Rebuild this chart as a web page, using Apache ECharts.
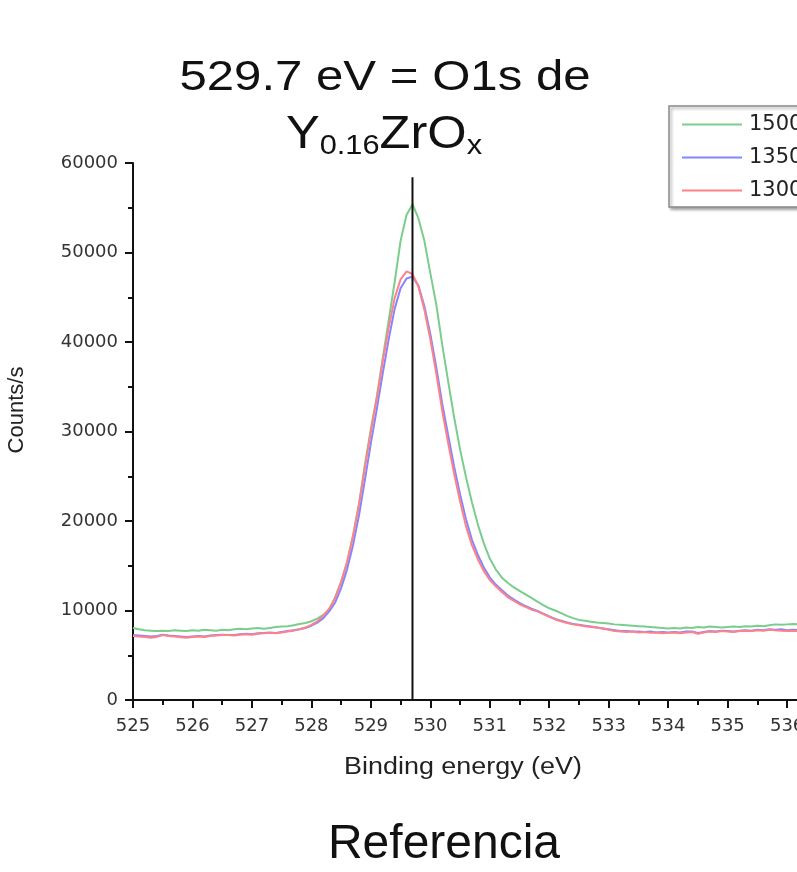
<!DOCTYPE html>
<html>
<head>
<meta charset="utf-8">
<script src="https://cdn.jsdelivr.net/npm/echarts@6/dist/echarts.min.js"></script>
<style>
html,body{margin:0;padding:0;background:#fff;}
#c{width:797px;height:872px;}
</style>
</head>
<body>
<div id="c"></div>
<script>
// Binding energy (eV)
const energies = [
525.0,525.1,525.2,525.3,525.4,525.5,525.6,525.7,525.8,525.9,
526.0,526.1,526.2,526.3,526.4,526.5,526.6,526.7,526.8,526.9,
527.0,527.1,527.2,527.3,527.4,527.5,527.6,527.7,527.8,527.9,
528.0,528.1,528.2,528.3,528.4,528.5,528.6,528.7,528.8,528.9,
529.0,529.1,529.2,529.3,529.4,529.5,529.6,529.7,529.8,529.9,
530.0,530.1,530.2,530.3,530.4,530.5,530.6,530.7,530.8,530.9,
531.0,531.1,531.2,531.3,531.4,531.5,531.6,531.7,531.8,531.9,
532.0,532.1,532.2,532.3,532.4,532.5,532.6,532.7,532.8,532.9,
533.0,533.1,533.2,533.3,533.4,533.5,533.6,533.7,533.8,533.9,
534.0,534.1,534.2,534.3,534.4,534.5,534.6,534.7,534.8,534.9,
535.0,535.1,535.2,535.3,535.4,535.5,535.6,535.7,535.8,535.9,
536.0,536.1,536.2
];
// Counts/s
const counts1500 = [
8050,7900,7800,7750,7700,7750,7700,7800,7750,7700,
7800,7750,7850,7800,7750,7850,7800,7900,7950,7900,
8000,8050,7950,8050,8150,8200,8250,8350,8500,8600,
8800,9100,9500,10100,11500,13200,15400,18400,21900,26300,
30300,33900,38200,42400,46700,51300,54200,55400,53800,51300,
47700,44200,39700,35600,31600,28000,24900,22100,19600,17500,
15800,14600,13700,13100,12600,12200,11800,11400,11000,10600,
10250,10000,9700,9400,9150,8950,8850,8750,8650,8600,
8550,8450,8400,8350,8300,8250,8200,8150,8100,8050,
8000,8050,8000,8100,8050,8150,8100,8200,8150,8100,
8150,8200,8150,8250,8200,8300,8250,8350,8450,8400,
8450,8500,8450
];
const counts1350 = [
7250,7200,7150,7100,7150,7300,7200,7150,7100,7050,
7100,7150,7100,7200,7250,7300,7250,7250,7350,7400,
7350,7450,7500,7550,7500,7600,7700,7800,7900,8050,
8300,8650,9150,9900,10900,12500,14600,17300,20600,24600,
28700,32500,36500,40300,43700,46000,47100,47300,46300,44000,
40900,37200,33100,29600,26100,23000,20200,17900,16200,14800,
13700,12900,12300,11700,11250,10850,10500,10200,9950,9650,
9350,9050,8850,8650,8500,8400,8300,8200,8100,8000,
7900,7800,7700,7700,7650,7650,7600,7650,7550,7600,
7550,7600,7550,7650,7650,7500,7600,7700,7650,7750,
7700,7650,7750,7800,7750,7850,7800,7900,7850,7900,
7800,7850,7800
];
const counts1300 = [
7150,7100,7050,6950,7050,7250,7150,7100,7000,6950,
7050,7100,7050,7150,7200,7250,7250,7200,7300,7350,
7300,7400,7450,7500,7450,7550,7650,7750,7900,8100,
8400,8800,9400,10200,11400,13200,15400,18300,21800,26000,
30000,33700,37800,41600,44900,47000,47900,47600,46200,43600,
40300,36500,32300,28700,25300,22200,19400,17300,15700,14400,
13400,12700,12100,11500,11100,10700,10400,10100,9900,9600,
9300,9000,8800,8600,8450,8350,8250,8150,8100,8000,
7850,7700,7650,7600,7650,7550,7600,7500,7550,7450,
7500,7550,7450,7550,7600,7400,7550,7650,7600,7700,
7650,7600,7700,7750,7700,7800,7750,7850,7800,7750,
7700,7750,7700
];
const seriesNames = ['1500 °C', '1350 °C', '1300 °C'];
const seriesColors = ['#7acd8d', '#8585ff', '#ff8289'];
// reference marker line (O1s position)
const markerEnergy = [529.7, 529.7];
const markerCounts = [0, 58400];

const xTicks = {min: 525, max: 536.2, interval: 1};
const yTicks = {min: 0, max: 60000, interval: 10000};

const pairs = (xs, ys) => xs.map((x, i) => [x, ys[i]]);

const chart = echarts.init(document.getElementById('c'), null, {renderer: 'canvas'});
const lineSeries = [counts1500, counts1350, counts1300].map((arr, i) => ({
  name: seriesNames[i],
  type: 'line',
  data: pairs(energies, arr),
  symbol: 'none',
  showSymbol: false,
  smooth: false,
  lineStyle: {color: seriesColors[i], width: 2},
  itemStyle: {color: seriesColors[i]},
  emphasis: {disabled: true},
  animation: false
}));
lineSeries.push({
  name: 'marker',
  type: 'line',
  data: pairs(markerEnergy, markerCounts),
  symbol: 'none',
  lineStyle: {color: '#111', width: 2},
  itemStyle: {color: '#111'},
  silent: true,
  animation: false,
  z: 5
});

chart.setOption({
  backgroundColor: '#fff',
  animation: false,
  grid: {left: 133, top: 163, width: 666, height: 537, containLabel: false, outerBoundsMode: 'none'},
  legend: {
    data: seriesNames,
    orient: 'vertical',
    left: 669, top: 106,
    padding: [8, 12, 6, 13],
    itemGap: 12,
    icon: 'rect',
    itemWidth: 60, itemHeight: 2,
    backgroundColor: '#fff',
    borderColor: '#8a8a8a', borderWidth: 1.5,
    shadowColor: 'rgba(0,0,0,0.35)', shadowBlur: 3, shadowOffsetX: 2, shadowOffsetY: 2,
    textStyle: {fontFamily: 'DejaVu Sans', fontSize: 21, lineHeight: 21, color: '#222', padding: [0, 0, 0, 2]},
    selectedMode: false
  },
  xAxis: {
    type: 'value', min: xTicks.min, max: xTicks.max, interval: xTicks.interval,
    axisLine: {show: true, onZero: false, lineStyle: {color: '#111', width: 2}},
    axisTick: {show: true, inside: false, length: 8, lineStyle: {color: '#111', width: 2}},
    minorTick: {show: true, splitNumber: 2, length: 5, lineStyle: {color: '#111', width: 2}},
    splitLine: {show: false},
    axisLabel: {
      margin: 17, fontFamily: 'DejaVu Sans', fontSize: 18, color: '#333',
      formatter: v => (Math.abs(v - Math.round(v)) < 1e-9 ? String(Math.round(v)) : '')
    }
  },
  yAxis: {
    type: 'value', min: yTicks.min, max: yTicks.max, interval: yTicks.interval,
    axisLine: {show: true, onZero: false, lineStyle: {color: '#111', width: 2}},
    axisTick: {show: true, inside: false, length: 8, lineStyle: {color: '#111', width: 2}},
    minorTick: {show: true, splitNumber: 2, length: 5, lineStyle: {color: '#111', width: 2}},
    splitLine: {show: false},
    axisLabel: {margin: 15, fontFamily: 'DejaVu Sans', fontSize: 18, color: '#333', formatter: v => String(v)}
  },
  graphic: [
    {type: 'text', x: 385, y: 78, scaleX: 1.17, silent: true,
     style: {text: '529.7 eV = O1s de', x: 0, y: 0, textAlign: 'center', textVerticalAlign: 'middle', verticalAlign: 'middle',
             font: '42px "Liberation Sans", Arial, sans-serif', fill: '#111'}},
    {type: 'text', x: 384, y: 135, scaleX: 1.1, silent: true,
     style: {text: '{m|Y}{s|0.16}{m|ZrO}{s|x}', x: 0, y: 0, textAlign: 'center', textVerticalAlign: 'middle', verticalAlign: 'middle',
             rich: {
               m: {fontFamily: '"Liberation Sans", Arial, sans-serif', fontSize: 46, lineHeight: 50, fill: '#111', color: '#111'},
               s: {fontFamily: '"Liberation Sans", Arial, sans-serif', fontSize: 28, lineHeight: 26, verticalAlign: 'bottom', fill: '#111', color: '#111'}
             }}},
    {type: 'text', x: 17, y: 410, rotation: Math.PI / 2, silent: true,
     style: {text: 'Counts/s', x: 0, y: 0, textAlign: 'center', textVerticalAlign: 'middle', verticalAlign: 'middle',
             font: '22px "Liberation Sans", Arial, sans-serif', fill: '#222'}},
    {type: 'text', x: 463, y: 768, scaleX: 1.17, silent: true,
     style: {text: 'Binding energy (eV)', x: 0, y: 0, textAlign: 'center', textVerticalAlign: 'middle', verticalAlign: 'middle',
             font: '23px "Liberation Sans", Arial, sans-serif', fill: '#222'}},
    {type: 'text', x: 444, y: 845, silent: true,
     style: {text: 'Referencia', x: 0, y: 0, textAlign: 'center', textVerticalAlign: 'middle', verticalAlign: 'middle',
             font: '48px "Liberation Sans", Arial, sans-serif', fill: '#111'}}
  ],
  series: lineSeries
});
</script>
</body>
</html>
